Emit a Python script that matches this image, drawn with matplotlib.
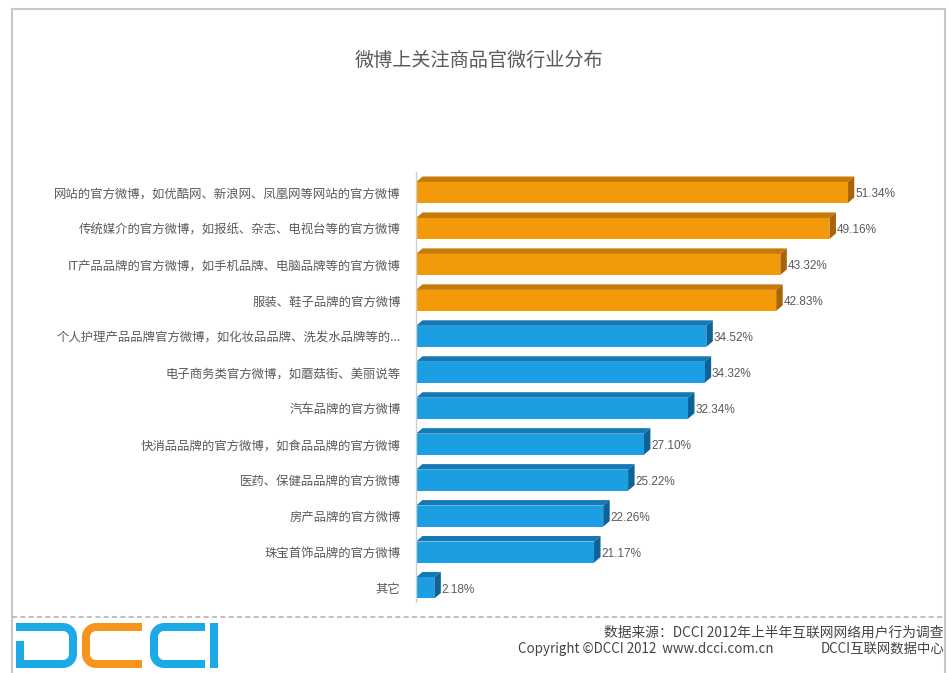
import matplotlib
matplotlib.use("Agg")
import matplotlib.pyplot as plt
from matplotlib.patches import Polygon, Rectangle
from matplotlib.lines import Line2D
import numpy as np

plt.rcParams['font.family'] = ['Noto Sans CJK SC', 'DejaVu Sans']

# ---- data ----
title = "微博上关注商品官微行业分布"
categories = [
    "网站的官方微博，如优酷网、新浪网、凤凰网等网站的官方微博",
    "传统媒介的官方微博，如报纸、杂志、电视台等的官方微博",
    "IT产品品牌的官方微博，如手机品牌、电脑品牌等的官方微博",
    "服装、鞋子品牌的官方微博",
    "个人护理产品品牌官方微博，如化妆品品牌、洗发水品牌等的...",
    "电子商务类官方微博，如蘑菇街、美丽说等",
    "汽车品牌的官方微博",
    "快消品品牌的官方微博，如食品品牌的官方微博",
    "医药、保健品品牌的官方微博",
    "房产品牌的官方微博",
    "珠宝首饰品牌的官方微博",
    "其它",
]
values = [51.34, 49.16, 43.32, 42.83, 34.52, 34.32, 32.34, 27.10, 25.22, 22.26, 21.17, 2.18]
top_group = 4  # leading bars drawn in orange

source_text = "数据来源：DCCI 2012年上半年互联网网络用户行为调查"
copyright_text = "Copyright ©DCCI 2012  www.dcci.com.cn"
org_text = "DCCI互联网数据中心"

# ---- style ----
W, H = 948, 673
orange = dict(front="#F39A0A", top="#C77A06", side="#A86405")
blue = dict(front="#1C9EE2", top="#1279B6", side="#0D6398")
text_gray = "#5a5a5a"

fig = plt.figure(figsize=(W / 100, H / 100), dpi=100)
fig.patch.set_facecolor("white")

# overlay in pixel coordinates for frame, separator and logo
deco = fig.add_axes([0, 0, 1, 1], zorder=0)
deco.set_xlim(0, W)
deco.set_ylim(H, 0)
deco.axis("off")

# ---- chart axes ----
left_px, right_px, top_px, bot_px = 416, 940, 172, 602
px_per_pct = 8.41
row_px = 35.9
ax = fig.add_axes([left_px / W, 1 - bot_px / H, (right_px - left_px) / W, (bot_px - top_px) / H],
                  zorder=2)
ax.patch.set_alpha(0)
ax.set_xlim(0, (right_px - left_px) / px_per_pct)
first_center = 192.5
ax.set_ylim(11 + (bot_px - 588) / row_px, -(first_center - top_px) / row_px)

bar_h = 0.585
dx = 6.5 / px_per_pct
dy = 5.5 / row_px

for i, v in enumerate(values):
    c = orange if i < top_group else blue
    y0 = i - bar_h / 2
    y1 = i + bar_h / 2
    ax.add_patch(Polygon([(0, y0), (v, y0), (v + dx, y0 - dy), (dx, y0 - dy)],
                         closed=True, facecolor=c["top"], edgecolor="none"))
    ax.add_patch(Polygon([(v, y0), (v + dx, y0 - dy), (v + dx, y1 - dy), (v, y1)],
                         closed=True, facecolor=c["side"], edgecolor="none"))
    ax.add_patch(Rectangle((0, y0), v, bar_h, facecolor=c["front"], edgecolor="none"))
    ax.text(v + dx + 0.1, i + 0.05, f"{v:.2f}%", va="center", ha="left",
            fontsize=8.5, color=text_gray, family=["Liberation Sans", "DejaVu Sans"])

ax.set_yticks(range(len(categories)))
ax.set_yticklabels(categories, fontsize=8.9, color=text_gray)
ax.tick_params(axis="y", length=0, pad=11)
ax.set_xticks([])
for s in ["top", "right", "bottom"]:
    ax.spines[s].set_visible(False)
ax.spines["left"].set_color("#cfcfcf")
ax.spines["left"].set_linewidth(1)

# ---- title ----
fig.text(479 / W, 1 - 60 / H, title, ha="center", va="center", fontsize=13.8, color=text_gray)

# ---- frame ----
frame_c = "#c8c8c8"
deco.add_line(Line2D([12, 12], [9, H], color=frame_c, lw=1.5))
deco.add_line(Line2D([12, 945], [9, 9], color=frame_c, lw=1.5))
deco.add_line(Line2D([945, 945], [9, H], color=frame_c, lw=1.5))
deco.add_line(Line2D([12, 945], [617, 617], color="#b5b5b5", lw=1.2, ls=(0, (3, 2))))

# ---- footer ----
fig.text(944 / W, 1 - 632 / H, source_text, ha="right", va="center", fontsize=9.9, color="#444444")
fig.text(518 / W, 1 - 649 / H, copyright_text, ha="left", va="center", fontsize=9.6, color="#444444")
fig.text(944 / W, 1 - 649 / H, org_text, ha="right", va="center", fontsize=9.6, color="#444444")

# ---- logo ----
logo_blue = "#1BAAE6"
logo_orange = "#F7941D"
stroke = 8 * 72 / 100


def arc(cx, cy, r, a0, a1, n=12):
    t = np.radians(np.linspace(a0, a1, n))
    return list(zip(cx + r * np.cos(t), cy + r * np.sin(t)))


def c_shape(xl, xr, yt, yb, r):
    pts = [(xr, yt), (xl + r, yt)]
    pts += arc(xl + r, yt + r, r, 270, 180)
    pts += [(xl, yb - r)]
    pts += arc(xl + r, yb - r, r, 180, 90)
    pts += [(xr, yb)]
    return pts


def d_shape(xl, xr, yt, yb, r, stem_top):
    pts = [(xl + 4, stem_top), (xl + 4, yb), (xr - r, yb)]
    pts += arc(xr - r, yb - r, r, 90, 0)
    pts += [(xr, yt + r)]
    pts += arc(xr - r, yt + r, r, 0, -90)
    pts += [(xl, yt)]
    return pts


for pts, col in [
    (d_shape(16, 73, 627, 664, 10, 641), logo_blue),
    (c_shape(86, 142, 627, 664, 10), logo_orange),
    (c_shape(154, 205, 627, 664, 10), logo_blue),
]:
    xs, ys = zip(*pts)
    deco.add_line(Line2D(xs, ys, color=col, lw=stroke, solid_capstyle="butt",
                         solid_joinstyle="miter"))
deco.add_patch(Rectangle((210, 623), 8, 45, facecolor=logo_blue, edgecolor="none"))

fig.savefig("out.png", dpi=100, facecolor="white")
